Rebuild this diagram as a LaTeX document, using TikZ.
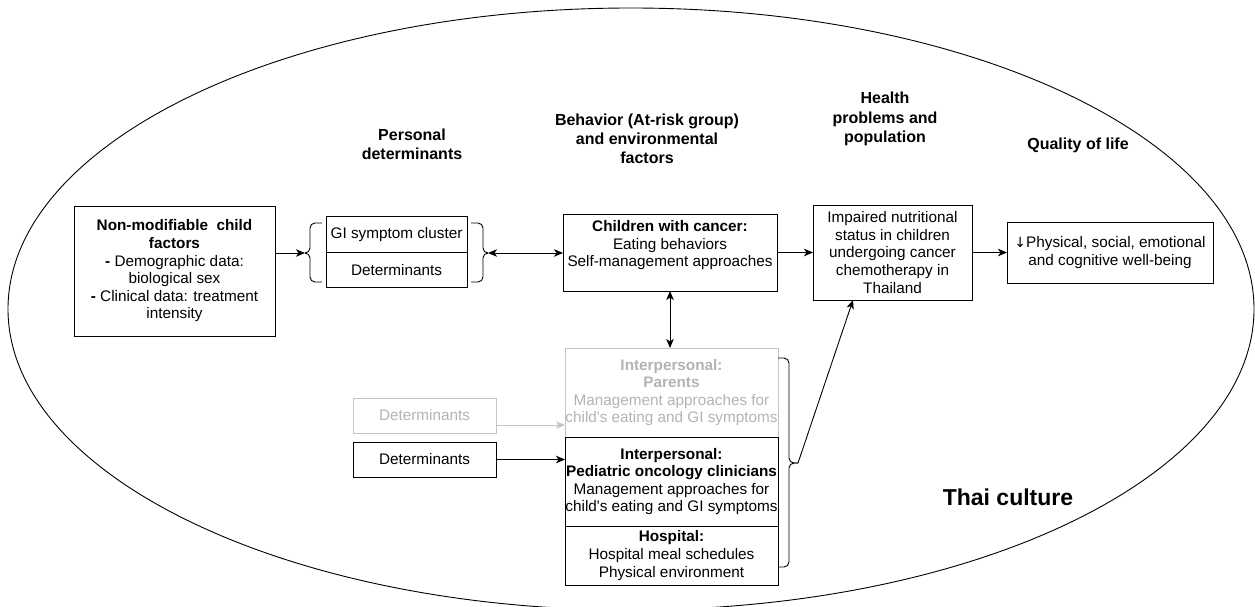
\documentclass[tikz,border=0pt]{standalone}
\usepackage{fontspec}
\setmainfont{Liberation Sans}
\newfontfamily\arrowfont{DejaVu Sans}
\usetikzlibrary{arrows.meta}
\definecolor{lgray}{HTML}{C4C4C4}
\definecolor{tgray}{HTML}{B3B3B3}
\begin{document}
\begin{tikzpicture}[x=1pt,y=-1pt,
  every node/.style={font=\fontsize{15.3}{17.6}\selectfont, align=center, inner sep=0pt, outer sep=0pt},
  boxed/.style={draw, line width=0.9pt},
  grayboxed/.style={draw=lgray, line width=0.9pt, text=tgray},
  heading/.style={font=\fontsize{16}{19.2}\selectfont\bfseries},
  conn/.style={line width=0.9pt},
  arr/.style={conn, -{Stealth[length=9pt,width=7.5pt,inset=2.5pt]}},
  darr/.style={conn, {Stealth[length=9pt,width=7.5pt,inset=2.5pt]}-{Stealth[length=9pt,width=7.5pt,inset=2.5pt]}},
  bracket/.style={line width=0.9pt, rounded corners=5pt}]
\useasboundingbox (0,0) rectangle (1255,607);
\clip (0,0) rectangle (1255,607);
% Thai culture ellipse
\draw[line width=0.9pt] (631,309) ellipse [x radius=623, y radius=301];

% headings
\node[heading] (hpers) at (412,144) {Personal\\determinants};
\node[heading] (hbeh) at (647,139) {Behavior (At-risk group)\\and environmental\\factors};
\node[heading] (hhealth) at (885,119) {Health\\problems and\\population};
\node[heading] (hqol) at (1078,145) {Quality of life};
\node[font=\fontsize{23}{27}\selectfont\bfseries] (thai) at (1008,497) {Thai culture};

% boxes
\node[boxed, minimum width=201, minimum height=130] (nonmod) at (174.5,271)
  {\textbf{Non-modifiable\ \ child}\\\textbf{factors}\\\textbf{-} Demographic data:\\biological sex\\\textbf{-} Clinical data: treatment\\intensity};
\node[boxed, minimum width=141, minimum height=35.5] (gi) at (396.5,234.5) {GI symptom cluster};
\node[boxed, minimum width=141, minimum height=35.5] (pdet) at (396.5,270) {Determinants};
\node[boxed, minimum width=214, minimum height=77] (children) at (670,252.5)
  {\textbf{Children with cancer:}\\Eating behaviors\\Self-management approaches\\\mbox{}};
\node[boxed, minimum width=159, minimum height=95] (impaired) at (892.5,252.5)
  {Impaired nutritional\\status in children\\undergoing cancer\\chemotherapy in\\Thailand};
\node[boxed, minimum width=206, minimum height=61] (qol) at (1110,252.5)
  {{\arrowfont\fontsize{14}{17.6}\selectfont ↓}Physical, social, emotional\\and cognitive well-being};
\node[grayboxed, minimum width=213, minimum height=89] (parents) at (671.5,392.5)
  {\textbf{Interpersonal:}\\\textbf{Parents}\\Management approaches for\\child\textquotesingle s eating and GI symptoms};
\node[boxed, minimum width=213, minimum height=89] (clin) at (671.5,481.5)
  {\textbf{Interpersonal:}\\\textbf{Pediatric oncology clinicians}\\Management approaches for\\child\textquotesingle s eating and GI symptoms};
\node[boxed, minimum width=213, minimum height=59] (hosp) at (671.5,555.5)
  {\textbf{Hospital:}\\Hospital meal schedules\\Physical environment};
\node[grayboxed, minimum width=143, minimum height=35] (detgray) at (424.5,415.5) {Determinants};
\node[boxed, minimum width=143, minimum height=35] (detblack) at (424.5,459.5) {Determinants};

% brackets
\coordinate (lb) at (305,253);
\coordinate (rb) at (488,253);
\coordinate (sb) at (798,463);
\draw[bracket] (322,223) -- (310,223) -- (310,253) -- (lb);
\draw[bracket] (322,282) -- (310,282) -- (310,253) -- (lb);
\draw[bracket] (471,223) -- (483,223) -- (483,253) -- (rb);
\draw[bracket] (471,282) -- (483,282) -- (483,253) -- (rb);
\draw[bracket] (778,358) -- (789,358) -- (789,463) -- (sb);
\draw[bracket] (778,567) -- (789,567) -- (789,463) -- (sb);

% connectors
\draw[arr] (nonmod.east |- lb) -- (lb);
\draw[darr] (rb) -- (rb -| children.west);
\draw[arr] (children) -- (impaired);
\draw[arr] (impaired) -- (qol);
\draw[darr] (children.south) -- (children.south |- parents.north);
\draw[arr, draw=lgray] ([yshift=-9.5pt]detgray.east) -- ([yshift=-9.5pt]detgray.east -| parents.west);
\draw[arr] (detblack) -- (detblack -| clin.west);
\draw[arr] (sb) -- ([xshift=-39.5pt]impaired.south);
\end{tikzpicture}
\end{document}
